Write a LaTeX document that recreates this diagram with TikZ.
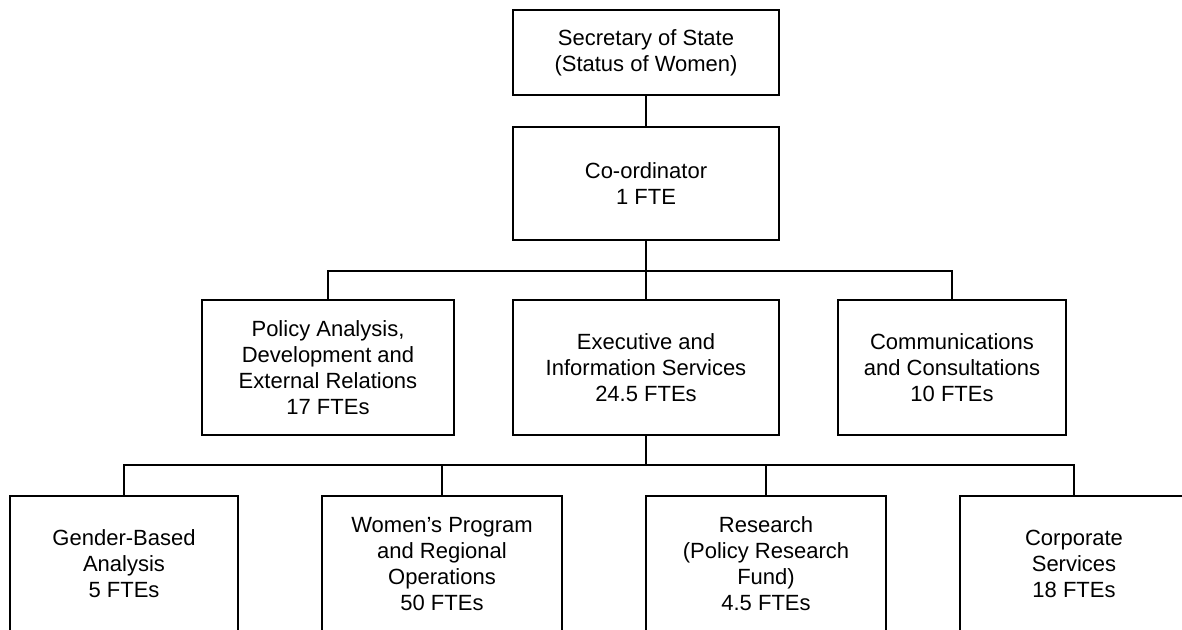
\documentclass[tikz,border=0pt]{standalone}
\usepackage{fontspec}
\setmainfont{Liberation Sans}
\usepackage{tikz}

\begin{document}
\begin{tikzpicture}[x=0.5pt,y=-0.5pt,
	orgbox/.style={draw, line width=0.75pt, align=center, inner sep=0pt,
		font=\fontsize{11}{13}\selectfont}]
	\clip (0,0) rectangle (1182,629);
	% top of the chart
	\node[orgbox, minimum width=133pt, minimum height=42.5pt] (sec) at (646,52.5) {Secretary of State\\(Status of Women)};
	\node[orgbox, minimum width=133pt, minimum height=56.5pt] (coord) at (646,183.5) {Co-ordinator\\1 FTE};
	% middle row
	\node[orgbox, minimum width=126pt, minimum height=67.5pt] (policy) at (328,367.5) {Policy Analysis,\\Development and\\External Relations\\17 FTEs};
	\node[orgbox, minimum width=133pt, minimum height=67.5pt] (exec) at (646,367.5) {Executive and\\Information Services\\24.5 FTEs};
	\node[orgbox, minimum width=114pt, minimum height=67.5pt] (comms) at (952,367.5) {Communications\\and Consultations\\10 FTEs};
	% bottom row
	\node[orgbox, minimum width=114pt, minimum height=68pt] (gender) at (124,564) {Gender-Based\\Analysis\\5 FTEs};
	\node[orgbox, minimum width=120pt, minimum height=68pt] (women) at (442,564) {Women’s Program\\and Regional\\Operations\\50 FTEs};
	\node[orgbox, minimum width=120pt, minimum height=68pt] (research) at (766,564) {Research\\(Policy Research\\Fund)\\4.5 FTEs};
	\node[orgbox, minimum width=114pt, minimum height=68pt] (corp) at (1074,564) {Corporate\\Services\\18 FTEs};
	% connectors
	\coordinate (busA) at (646,271);
	\coordinate (busB) at (646,465);
	\draw[line width=0.75pt] (sec) -- (coord);
	\draw[line width=0.75pt] (coord) -- (exec);
	\draw[line width=0.75pt] (policy.north) |- (busA) -| (comms.north);
	\draw[line width=0.75pt] (exec) -- (busB);
	\draw[line width=0.75pt] (gender.north) |- (busB) -| (corp.north);
	\draw[line width=0.75pt] (women.north) -- (women.north |- busB);
	\draw[line width=0.75pt] (research.north) -- (research.north |- busB);
\end{tikzpicture}
\end{document}
